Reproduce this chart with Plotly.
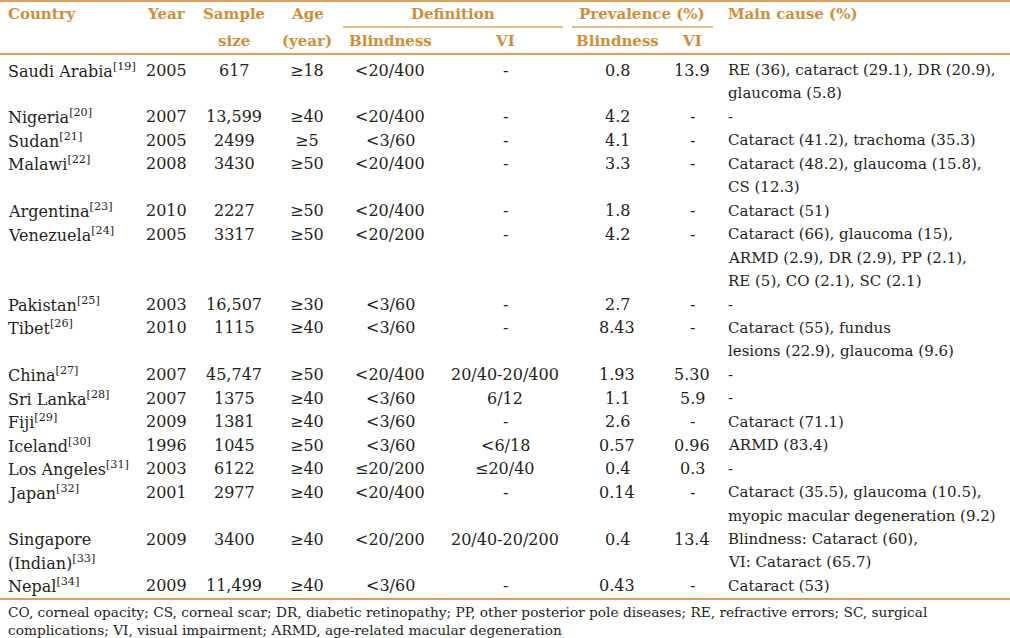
import plotly.graph_objects as go

# ---------------- data ----------------
countries = ["Saudi Arabia", "Nigeria", "Sudan", "Malawi", "Argentina", "Venezuela",
             "Pakistan", "Tibet", "China", "Sri Lanka", "Fiji", "Iceland",
             "Los Angeles", "Japan", "Singapore (Indian)", "Nepal"]
country_lines = [["Saudi Arabia"], ["Nigeria"], ["Sudan"], ["Malawi"], ["Argentina"],
                 ["Venezuela"], ["Pakistan"], ["Tibet"], ["China"], ["Sri Lanka"],
                 ["Fiji"], ["Iceland"], ["Los Angeles"], ["Japan"],
                 ["Singapore", "(Indian)"], ["Nepal"]]
refs = [19, 20, 21, 22, 23, 24, 25, 26, 27, 28, 29, 30, 31, 32, 33, 34]
years = [2005, 2007, 2005, 2008, 2010, 2005, 2003, 2010, 2007, 2007, 2009, 1996,
         2003, 2001, 2009, 2009]
sample_sizes = [617, 13599, 2499, 3430, 2227, 3317, 16507, 1115, 45747, 1375, 1381,
                1045, 6122, 2977, 3400, 11499]
age_min = [18, 40, 5, 50, 50, 50, 30, 40, 50, 40, 40, 50, 40, 40, 40, 40]
def_blindness = ["<20/400", "<20/400", "<3/60", "<20/400", "<20/400", "<20/200",
                 "<3/60", "<3/60", "<20/400", "<3/60", "<3/60", "<3/60", "≤20/200",
                 "<20/400", "<20/200", "<3/60"]
def_vi = ["-", "-", "-", "-", "-", "-", "-", "-", "20/40-20/400", "6/12", "-",
          "<6/18", "≤20/40", "-", "20/40-20/200", "-"]
prev_blindness = ["0.8", "4.2", "4.1", "3.3", "1.8", "4.2", "2.7", "8.43", "1.93",
                  "1.1", "2.6", "0.57", "0.4", "0.14", "0.4", "0.43"]
prev_vi = ["13.9", "-", "-", "-", "-", "-", "-", "-", "5.30", "5.9", "-", "0.96",
           "0.3", "-", "13.4", "-"]
main_cause = [
    ["RE (36), cataract (29.1), DR (20.9),", "glaucoma (5.8)"],
    ["-"],
    ["Cataract (41.2), trachoma (35.3)"],
    ["Cataract (48.2), glaucoma (15.8),", "CS (12.3)"],
    ["Cataract (51)"],
    ["Cataract (66), glaucoma (15),", "ARMD (2.9), DR (2.9), PP (2.1),",
     "RE (5), CO (2.1), SC (2.1)"],
    ["-"],
    ["Cataract (55), fundus", "lesions (22.9), glaucoma (9.6)"],
    ["-"],
    ["-"],
    ["Cataract (71.1)"],
    ["ARMD (83.4)"],
    ["-"],
    ["Cataract (35.5), glaucoma (10.5),", "myopic macular degeneration (9.2)"],
    ["Blindness: Cataract (60),", "VI: Cataract (65.7)"],
    ["Cataract (53)"],
]
footnote = ["CO, corneal opacity; CS, corneal scar; DR, diabetic retinopathy; PP, other posterior pole diseases; RE, refractive errors; SC, surgical",
            "complications; VI, visual impairment; ARMD, age-related macular degeneration"]

# ---------------- layout constants ----------------
W, H = 1010, 638
FONT = "DejaVu Serif"
FS = 16
CFS = 15
HFS = 15
TXT = "#231f20"
HEAD = "#d08e3a"
RULE = "#dba35c"
Y0, STEP = 70, 23.45

X_COUNTRY, X_YEAR, X_SAMPLE, X_AGE = 6, 166, 234, 307
X_DEFB, X_DEFVI, X_PREVB, X_PREVVI, X_CAUSE = 390, 505, 617, 692, 726

fig = go.Figure()

ann = []

def add(x, y, text, anchor="center", color=TXT, size=FS, bold=False):
    if bold:
        text = "<b>" + text + "</b>"
    ann.append(dict(x=x, y=y, xref="x", yref="y", text=text, showarrow=False,
                    xanchor=anchor, yanchor="middle",
                    font=dict(family=FONT, size=size, color=color)))

# header
HY1, HY2 = 14, 41
add(X_COUNTRY, HY1, "Country", "left", HEAD, HFS, True)
add(X_YEAR, HY1, "Year", "center", HEAD, HFS, True)
add(X_SAMPLE, HY1, "Sample", "center", HEAD, HFS, True)
add(X_SAMPLE, HY2, "size", "center", HEAD, HFS, True)
add(X_AGE, HY1, "Age", "center", HEAD, HFS, True)
add(X_AGE, HY2, "(year)", "center", HEAD, HFS, True)
add(453, HY1, "Definition", "center", HEAD, HFS, True)
add(X_DEFB, HY2, "Blindness", "center", HEAD, HFS, True)
add(X_DEFVI, HY2, "VI", "center", HEAD, HFS, True)
add(642, HY1, "Prevalence (%)", "center", HEAD, HFS, True)
add(X_PREVB, HY2, "Blindness", "center", HEAD, HFS, True)
add(X_PREVVI, HY2, "VI", "center", HEAD, HFS, True)
add(X_CAUSE, HY1, "Main cause (%)", "left", HEAD, HFS, True)

# body
line = 0
for i in range(len(countries)):
    y = Y0 + STEP * line
    cl = country_lines[i]
    for j, t in enumerate(cl):
        txt = t + ("<sup>[%d]</sup>" % refs[i] if j == len(cl) - 1 else "")
        add(X_COUNTRY, Y0 + STEP * (line + j), txt, "left")
    add(X_YEAR, y, str(years[i]))
    s = sample_sizes[i]
    add(X_SAMPLE, y, "{:,}".format(s) if s >= 10000 else str(s))
    add(X_AGE, y, "≥" + str(age_min[i]))
    add(X_DEFB, y, def_blindness[i].replace("<", "&lt;"))
    add(X_DEFVI, y, def_vi[i].replace("<", "&lt;"))
    add(X_PREVB, y, prev_blindness[i])
    add(X_PREVVI, y, prev_vi[i])
    for j, t in enumerate(main_cause[i]):
        add(X_CAUSE, Y0 + STEP * (line + j), t, "left", size=CFS)
    line += max(len(cl), len(main_cause[i]))

# footnote
add(6, 612, footnote[0], "left", TXT, size=13.7)
add(6, 630, footnote[1], "left", TXT, size=13.7)

shapes = [
    dict(type="line", xref="x", yref="y", x0=0, x1=W, y0=1, y1=1, line=dict(color=RULE, width=2)),
    dict(type="line", xref="x", yref="y", x0=343, x1=563, y0=27, y1=27, line=dict(color=RULE, width=1.5)),
    dict(type="line", xref="x", yref="y", x0=572, x1=713, y0=27, y1=27, line=dict(color=RULE, width=1.5)),
    dict(type="line", xref="x", yref="y", x0=0, x1=W, y0=54, y1=54, line=dict(color=RULE, width=2)),
    dict(type="line", xref="x", yref="y", x0=0, x1=W, y0=599, y1=599, line=dict(color=RULE, width=2)),
]

fig.update_layout(
    width=W, height=H, margin=dict(l=0, r=0, t=0, b=0),
    paper_bgcolor="white", plot_bgcolor="white",
    xaxis=dict(range=[0, W], visible=False, fixedrange=True),
    yaxis=dict(range=[H, 0], visible=False, fixedrange=True),
    annotations=ann, shapes=shapes, showlegend=False,
)
fig.write_html("out.html", config={"displayModeBar": False},
               post_script="document.body.style.margin='0';document.body.style.overflow='hidden';")
